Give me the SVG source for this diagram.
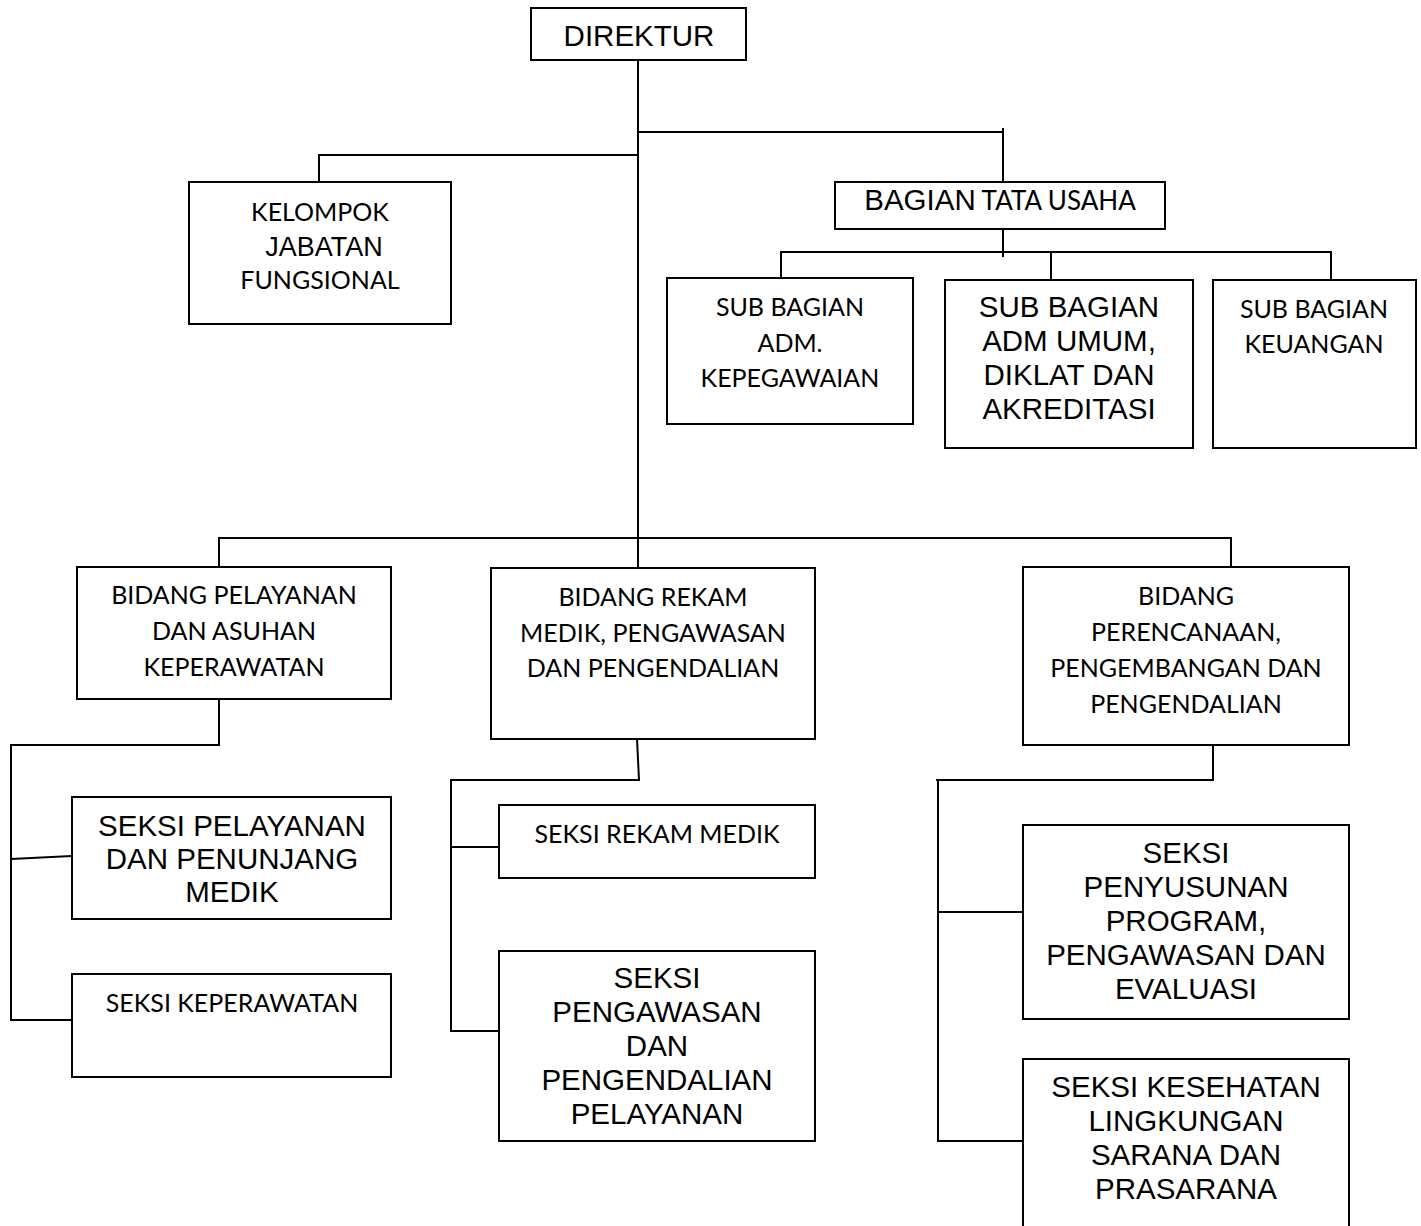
<svg xmlns="http://www.w3.org/2000/svg" width="1421" height="1226" viewBox="0 0 1421 1226">
  <style>
    .box { fill: #ffffff; stroke: #000000; stroke-width: 2; }
    .wire { fill: none; stroke: #000000; stroke-width: 2; }
    text { fill: #000000; text-anchor: middle; }
    .ar { font-family: "Liberation Sans", Arial, sans-serif; font-size: 29.5px; }
    .cb { font-family: Lato, "Open Sans", sans-serif; font-size: 25px; }
  </style>
  <rect width="1421" height="1226" fill="#ffffff"/>

  <!-- organisation lines -->
  <g id="connectors" class="wire">
    <!-- director trunk -->
    <path d="M638 60 V568"/>
    <path d="M638 132 H1003 M1003 128 V182"/>
    <path d="M638 155 H319 V182"/>
    <!-- tata usaha to sub-sections -->
    <path d="M1003 229 V257"/>
    <path d="M781 278 V252 H1331 V280 M1051 252 V280"/>
    <!-- bidang row -->
    <path d="M219 567 V538 H1231 V567"/>
    <!-- left branch -->
    <path d="M219 699 V745 H11 V1020 H72 M11 859 L72 856"/>
    <!-- middle branch -->
    <path d="M637 739 L639 780 H451 V1031 H499 M451 847 H499"/>
    <!-- right branch -->
    <path d="M1213 745 V780 H936 M938 780 V1141 H1023 M938 912 H1023"/>
  </g>

  <g id="direktur">
    <rect class="box" x="531" y="8" width="215" height="52"/>
    <text class="ar" x="639" y="46">DIREKTUR</text>
  </g>

  <g id="kelompok-jabatan-fungsional">
    <rect class="box" x="189" y="182" width="262" height="142"/>
    <text class="cb" x="320" y="221">KELOMPOK</text>
    <text class="ar" x="324" y="256" style="font-size:27px">JABATAN</text>
    <text class="cb" x="320" y="289">FUNGSIONAL</text>
  </g>

  <g id="bagian-tata-usaha">
    <rect class="box" x="835" y="182" width="330" height="47"/>
    <text x="1000" y="210"><tspan class="ar">BAGIAN</tspan><tspan class="cb" style="font-size:26px"> TATA USAHA</tspan></text>
  </g>

  <g id="sub-bagian-kepegawaian">
    <rect class="box" x="667" y="278" width="246" height="146"/>
    <text class="cb" x="790" y="316">SUB BAGIAN</text>
    <text class="cb" x="790" y="352">ADM.</text>
    <text class="cb" x="790" y="387">KEPEGAWAIAN</text>
  </g>

  <g id="sub-bagian-umum">
    <rect class="box" x="945" y="280" width="248" height="168"/>
    <text class="ar" x="1069" y="317">SUB BAGIAN</text>
    <text class="ar" x="1069" y="351">ADM UMUM,</text>
    <text class="ar" x="1069" y="385">DIKLAT DAN</text>
    <text class="ar" x="1069" y="419">AKREDITASI</text>
  </g>

  <g id="sub-bagian-keuangan">
    <rect class="box" x="1213" y="280" width="203" height="168"/>
    <text class="cb" x="1314" y="318">SUB BAGIAN</text>
    <text class="cb" x="1314" y="353">KEUANGAN</text>
  </g>

  <g id="bidang-pelayanan">
    <rect class="box" x="77" y="567" width="314" height="132"/>
    <text class="cb" x="234" y="604">BIDANG PELAYANAN</text>
    <text class="cb" x="234" y="640">DAN ASUHAN</text>
    <text class="cb" x="234" y="676">KEPERAWATAN</text>
  </g>

  <g id="bidang-rekam-medik">
    <rect class="box" x="491" y="568" width="324" height="171"/>
    <text class="cb" x="653" y="606">BIDANG REKAM</text>
    <text class="cb" x="653" y="642">MEDIK, PENGAWASAN</text>
    <text class="cb" x="653" y="677">DAN PENGENDALIAN</text>
  </g>

  <g id="bidang-perencanaan">
    <rect class="box" x="1023" y="567" width="326" height="178"/>
    <text class="cb" x="1186" y="605">BIDANG</text>
    <text class="cb" x="1186" y="641">PERENCANAAN,</text>
    <text class="cb" x="1186" y="677">PENGEMBANGAN DAN</text>
    <text class="cb" x="1186" y="713">PENGENDALIAN</text>
  </g>

  <g id="seksi-pelayanan-penunjang">
    <rect class="box" x="72" y="797" width="319" height="122"/>
    <text class="ar" x="232" y="836">SEKSI PELAYANAN</text>
    <text class="ar" x="232" y="869">DAN PENUNJANG</text>
    <text class="ar" x="232" y="902">MEDIK</text>
  </g>

  <g id="seksi-keperawatan">
    <rect class="box" x="72" y="974" width="319" height="103"/>
    <text class="cb" x="232" y="1012">SEKSI KEPERAWATAN</text>
  </g>

  <g id="seksi-rekam-medik">
    <rect class="box" x="499" y="805" width="316" height="73"/>
    <text class="cb" x="657" y="843">SEKSI REKAM MEDIK</text>
  </g>

  <g id="seksi-pengawasan-pengendalian">
    <rect class="box" x="499" y="951" width="316" height="190"/>
    <text class="ar" x="657" y="988">SEKSI</text>
    <text class="ar" x="657" y="1022">PENGAWASAN</text>
    <text class="ar" x="657" y="1056">DAN</text>
    <text class="ar" x="657" y="1090">PENGENDALIAN</text>
    <text class="ar" x="657" y="1124">PELAYANAN</text>
  </g>

  <g id="seksi-penyusunan-program">
    <rect class="box" x="1023" y="825" width="326" height="194"/>
    <text class="ar" x="1186" y="863">SEKSI</text>
    <text class="ar" x="1186" y="897">PENYUSUNAN</text>
    <text class="ar" x="1186" y="931">PROGRAM,</text>
    <text class="ar" x="1186" y="965">PENGAWASAN DAN</text>
    <text class="ar" x="1186" y="999">EVALUASI</text>
  </g>

  <g id="seksi-kesehatan-lingkungan">
    <rect class="box" x="1023" y="1059" width="326" height="180"/>
    <text class="ar" x="1186" y="1097">SEKSI KESEHATAN</text>
    <text class="ar" x="1186" y="1131">LINGKUNGAN</text>
    <text class="ar" x="1186" y="1165">SARANA DAN</text>
    <text class="ar" x="1186" y="1199">PRASARANA</text>
  </g>
</svg>
